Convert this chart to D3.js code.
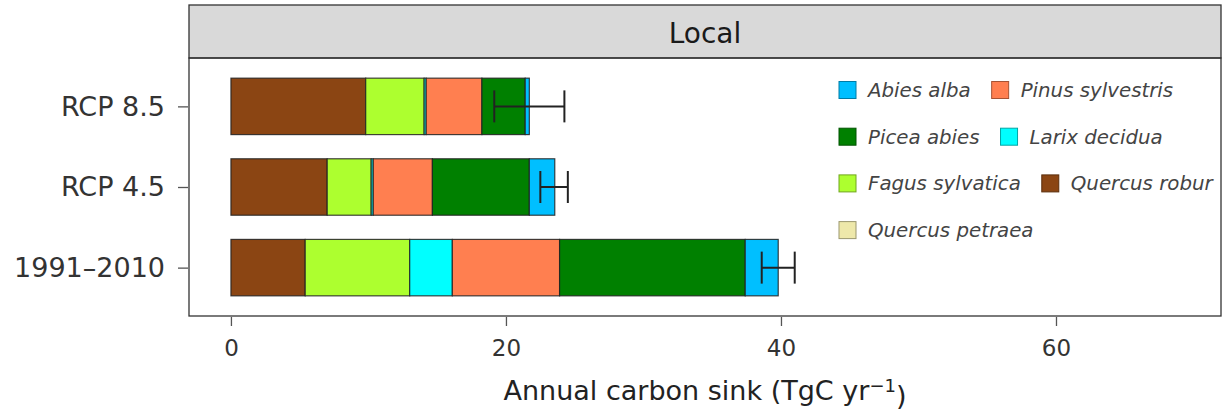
<!DOCTYPE html>
<head>
    <meta charset="utf-8">
</head>

<style type="text/css">
    body {
        margin: 0;
        background: #fff;
    }
    svg {
        display: block;
    }
    svg text {
        font-family: "DejaVu Sans", sans-serif;
    }
    .axis path.domain { display: none; }
    .axis line { stroke: #555; stroke-width: 1.3; }
    .axis text { fill: #333; }
    .seg { stroke: #222; stroke-width: 1.2; stroke-opacity: 0.85; }
    .err { stroke: #222; stroke-width: 2; fill: none; }
    .leg-text { font-style: italic; fill: #444; font-size: 19.8px; }
</style>

<body>
<div class="g-chart"></div>
</body>

<script src="https://cdnjs.cloudflare.com/ajax/libs/d3/7.8.5/d3.min.js"></script>

<script>

// scenarios, bottom to top
var scenarios = ["1991\u20132010", "RCP 4.5", "RCP 8.5"];

// stacking order, left to right
var species = ["Quercus robur", "Quercus petraea", "Fagus sylvatica", "Larix decidua",
               "Pinus sylvestris", "Picea abies", "Abies alba"];

var quercusRobur   = [5.4, 7.0, 9.8];
var quercusPetraea = [0, 0, 0];
var fagusSylvatica = [7.6, 3.2, 4.25];
var larixDecidua   = [3.1, 0.15, 0.15];
var pinusSylvestris = [7.8, 4.3, 4.05];
var piceaAbies     = [13.5, 7.05, 3.15];
var abiesAlba      = [2.4, 1.85, 0.3];

var errLow  = [38.6, 22.5, 19.15];
var errHigh = [41.0, 24.5, 24.25];

var legendOrder = ["Abies alba", "Pinus sylvestris", "Picea abies", "Larix decidua",
                   "Fagus sylvatica", "Quercus robur", "Quercus petraea"];

var xTicks = [0, 20, 40, 60];

var colors = {
    "Abies alba": "#00BFFF",
    "Pinus sylvestris": "#FF7F50",
    "Picea abies": "#008000",
    "Larix decidua": "#00FFFF",
    "Fagus sylvatica": "#ADFF2F",
    "Quercus robur": "#8B4513",
    "Quercus petraea": "#EEE8AA"
};

var seriesVals = {
    "Quercus robur": quercusRobur,
    "Quercus petraea": quercusPetraea,
    "Fagus sylvatica": fagusSylvatica,
    "Larix decidua": larixDecidua,
    "Pinus sylvestris": pinusSylvestris,
    "Picea abies": piceaAbies,
    "Abies alba": abiesAlba
};

var W = 1224, H = 412;
var panel = {left: 189, right: 1221, top: 58, bottom: 316};
var stripTop = 5;

var table = scenarios.map(function(s, i) {
    var row = {scenario: s, lo: errLow[i], hi: errHigh[i]};
    species.forEach(function(sp) { row[sp] = seriesVals[sp][i]; });
    return row;
});

var svg = d3.select(".g-chart").append("svg")
    .attr("width", W)
    .attr("height", H);

var x = d3.scaleLinear()
    .domain([-3.05, 72])
    .range([panel.left, panel.right]);

// discrete scale with 0.6 expansion on each side like ggplot
var yPos = d3.scaleLinear()
    .domain([0.4, scenarios.length + 0.6])
    .range([panel.bottom, panel.top]);
var barH = (yPos(1) - yPos(2)) * 0.7;

function yc(s) { return yPos(scenarios.indexOf(s) + 1); }

// strip
svg.append("rect")
    .attr("x", panel.left).attr("y", stripTop)
    .attr("width", panel.right - panel.left)
    .attr("height", panel.top - stripTop)
    .attr("fill", "#d9d9d9")
    .attr("stroke", "#333").attr("stroke-width", 1.3);

svg.append("text")
    .attr("x", (panel.left + panel.right) / 2)
    .attr("y", (stripTop + panel.top) / 2 + 1)
    .attr("dy", "0.36em")
    .attr("text-anchor", "middle")
    .style("font-size", "28px")
    .attr("fill", "#1a1a1a")
    .text("Local");

// clip for the panel
svg.append("clipPath").attr("id", "panel-clip")
  .append("rect")
    .attr("x", panel.left).attr("y", panel.top)
    .attr("width", panel.right - panel.left - 2)
    .attr("height", panel.bottom - panel.top);

var plot = svg.append("g").attr("clip-path", "url(#panel-clip)");

var stack = d3.stack().keys(species);
var layers = stack(table);

plot.append("g").selectAll("g")
    .data(layers)
    .enter().append("g")
    .attr("fill", function(d) { return colors[d.key]; })
    .selectAll("rect")
    .data(function(d) { return d.filter(function(p) { return p[1] - p[0] > 0; }); })
    .enter().append("rect")
    .attr("class", "seg")
    .attr("x", function(d) { return x(d[0]); })
    .attr("width", function(d) { return x(d[1]) - x(d[0]); })
    .attr("y", function(d) { return yc(d.data.scenario) - barH / 2; })
    .attr("height", barH);

// error bars
var capH = 32;
var eb = plot.append("g").selectAll("g")
    .data(table)
    .enter().append("g");

eb.append("line").attr("class", "err")
    .attr("x1", function(d) { return x(d.lo); })
    .attr("x2", function(d) { return x(d.hi); })
    .attr("y1", function(d) { return yc(d.scenario); })
    .attr("y2", function(d) { return yc(d.scenario); });
eb.append("line").attr("class", "err")
    .attr("x1", function(d) { return x(d.lo); })
    .attr("x2", function(d) { return x(d.lo); })
    .attr("y1", function(d) { return yc(d.scenario) - capH / 2; })
    .attr("y2", function(d) { return yc(d.scenario) + capH / 2; });
eb.append("line").attr("class", "err")
    .attr("x1", function(d) { return x(d.hi); })
    .attr("x2", function(d) { return x(d.hi); })
    .attr("y1", function(d) { return yc(d.scenario) - capH / 2; })
    .attr("y2", function(d) { return yc(d.scenario) + capH / 2; });

// legend, laid out in rows of two
var legend = plot.append("g");
var legX = 839, legY = 90, rowGap = 46.7, key = 17, textGap = 12, itemGap = 21;
var rows = d3.range(Math.ceil(legendOrder.length / 2)).map(function(r) {
    return legendOrder.slice(r * 2, r * 2 + 2);
});
rows.forEach(function(items, r) {
    var cx = legX;
    var cy = legY + r * rowGap;
    items.forEach(function(name) {
        legend.append("rect")
            .attr("x", cx).attr("y", cy - key / 2)
            .attr("width", key).attr("height", key)
            .attr("fill", colors[name])
            .attr("stroke", d3.color(colors[name]).darker(1.2))
            .attr("stroke-width", 1);
        var t = legend.append("text")
            .attr("class", "leg-text")
            .attr("x", cx + key + textGap)
            .attr("y", cy)
            .attr("dy", "0.35em")
            .text(name);
        cx += key + textGap + t.node().getComputedTextLength() + itemGap;
    });
});

// panel border
svg.append("rect")
    .attr("x", panel.left).attr("y", panel.top)
    .attr("width", panel.right - panel.left)
    .attr("height", panel.bottom - panel.top)
    .attr("fill", "none")
    .attr("stroke", "#333").attr("stroke-width", 1.3);

// axes
var xAxis = d3.axisBottom(x).tickValues(xTicks).tickSize(9).tickPadding(14);
svg.append("g")
    .attr("class", "axis")
    .attr("transform", "translate(0," + (panel.bottom + 1) + ")")
    .call(xAxis)
    .selectAll("text")
    .style("font-size", "23px");

var yScaleBand = d3.scalePoint()
    .domain(scenarios)
    .range([yPos(1), yPos(scenarios.length)]);
var yAxis = d3.axisLeft(yScaleBand).tickSize(10).tickPadding(13);
svg.append("g")
    .attr("class", "axis")
    .attr("transform", "translate(" + (panel.left - 1) + ",0)")
    .call(yAxis)
    .selectAll("text")
    .style("font-size", "27px");

// x title
svg.append("text")
    .attr("x", (panel.left + panel.right) / 2)
    .attr("y", 391)
    .attr("dy", "0.35em")
    .attr("text-anchor", "middle")
    .attr("fill", "#222")
    .style("font-size", "27px")
    .text("Annual carbon sink (TgC yr")
  .append("tspan")
    .attr("dy", "-0.45em")
    .style("font-size", "18px")
    .text("\u22121")
  .select(function() { return this.parentNode; })
  .append("tspan")
    .attr("dy", "0.45em")
    .text(")");

</script>
